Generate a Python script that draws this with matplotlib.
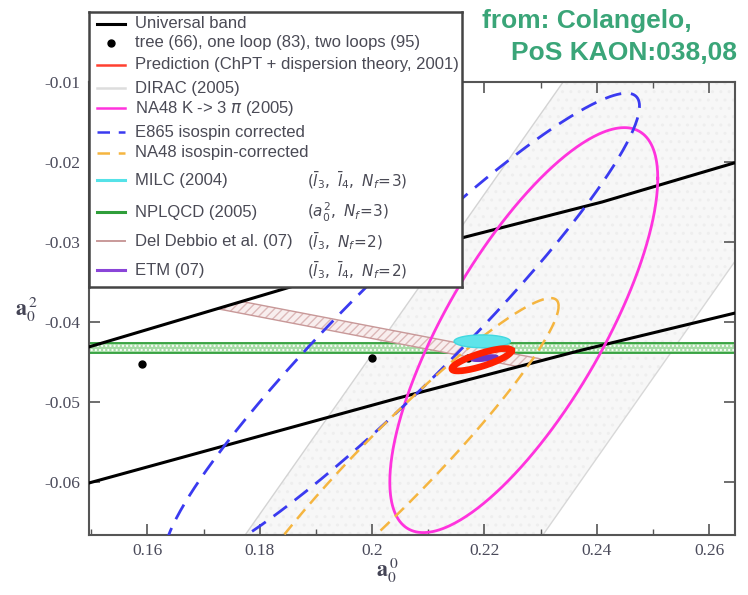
import numpy as np
import matplotlib
matplotlib.use("Agg")
import matplotlib.pyplot as plt
from matplotlib.patches import Polygon

plt.rcParams['axes.unicode_minus'] = False

# ---------------- data ----------------
# universal band boundaries (a0^0, a0^2)
upper_x = [0.1496, 0.1855, 0.2164, 0.2409, 0.2650]
upper_y = [-0.0431, -0.0356, -0.0294, -0.0250, -0.0200]
lower_x = [0.1496, 0.2046, 0.2373, 0.2650]
lower_y = [-0.0601, -0.0495, -0.0435, -0.0388]

# ChPT points: tree, one loop, two loops
pts_x = [0.159, 0.200, 0.217]
pts_y = [-0.0452, -0.0445, -0.0445]

# DIRAC band: a0^0 - a0^2 range
dirac_range = [0.244, 0.297]

# ellipses: (cx, cy, sx, sy, rho)
na48_cusp = (0.2270, -0.0410, 0.02385, 0.0253, 0.75)
e865 = (0.2053, -0.0410, 0.0423, 0.0296, 0.945)
na48_ke4 = (0.2039, -0.0580, 0.0293, 0.0210, 0.952)
prediction = (0.2195, -0.0447, 0.0053, 0.0014, 0.80)
milc = (0.2196, -0.0424, 0.0050, 0.0008, 0.0)
etm = (0.2200, -0.0445, 0.0024, 0.0004, 0.5)

# NPLQCD horizontal band
nplqcd_band = [-0.0439, -0.0426]

# Del Debbio strip (x ends, upper and lower edges)
dd_x = [0.170, 0.230]
dd_hi = [-0.0365, -0.0446]
dd_lo = [-0.0380, -0.0461]

xticks = [0.16, 0.18, 0.20, 0.22, 0.24, 0.26]
xtick_labels = ['0.16', '0.18', '0.2', '0.22', '0.24', '0.26']
yticks = [-0.06, -0.05, -0.04, -0.03, -0.02, -0.01]
ytick_labels = ['-0.06', '-0.05', '-0.04', '-0.03', '-0.02', '-0.01']

legend_labels = [
    "Universal band",
    "tree (66), one loop (83), two loops (95)",
    "Prediction (ChPT + dispersion theory, 2001)",
    "DIRAC (2005)",
    r"NA48 K -> 3 $\pi$ (2005)",
    "E865 isospin corrected",
    "NA48 isospin-corrected",
    "MILC (2004)",
    "NPLQCD (2005)",
    "Del Debbio et al. (07)",
    "ETM (07)",
]
legend_extra = ["", "", "", "", "", "", "",
                r"$(\bar{l}_3,\ \bar{l}_4,\ N_f\!=\!3)$",
                r"$(a_0^2,\ N_f\!=\!3)$",
                r"$(\bar{l}_3,\ N_f\!=\!2)$",
                r"$(\bar{l}_3,\ \bar{l}_4,\ N_f\!=\!2)$"]

# ---------------- figure ----------------
W, H = 748, 595
fig = plt.figure(figsize=(W / 100, H / 100), dpi=100)
ax = fig.add_axes([89 / W, 1 - 535 / H, (735 - 89) / W, (535 - 82) / H])
ax.set_xlim(0.1496, 0.2646)
ax.set_ylim(-0.0666, -0.0100)


def ellipse(p, n=400):
    cx, cy, sx, sy, rho = p
    t = np.linspace(0, 2 * np.pi, n)
    x = cx + sx * np.cos(t)
    y = cy + sy * (rho * np.cos(t) + np.sqrt(1 - rho ** 2) * np.sin(t))
    return x, y


# DIRAC band
xs = np.array(ax.get_xlim())
ax.fill_between(xs, xs - dirac_range[1], xs - dirac_range[0],
                facecolor='#f7f7f7', edgecolor='#eeeeee', hatch='..', lw=0, zorder=1)
ax.plot(xs, xs - dirac_range[0], color='#d4d4d4', lw=1.0, zorder=1.2)
ax.plot(xs, xs - dirac_range[1], color='#d8d8d8', lw=1.0, zorder=1.2)

# NPLQCD band
ax.fill_between(xs, nplqcd_band[0], nplqcd_band[1], facecolor='#a6dca6',
                edgecolor='white', hatch='....', lw=0, zorder=2)
ax.axhline(nplqcd_band[0], color='#2f9e3a', lw=1.3, zorder=2.1)
ax.axhline(nplqcd_band[1], color='#2f9e3a', lw=1.3, zorder=2.1)

# Del Debbio strip clipped to universal band
ub_poly = Polygon(np.column_stack([upper_x + lower_x[::-1], upper_y + lower_y[::-1]]),
                  closed=True, transform=ax.transData, facecolor='none', edgecolor='none')
ax.add_patch(ub_poly)
dd = ax.fill_between(dd_x, dd_lo, dd_hi, facecolor='#f8eeee', edgecolor='#dcb8b8',
                     hatch='////', lw=0, zorder=3)
dd.set_clip_path(ub_poly)
l1, = ax.plot(dd_x, dd_hi, color='#c89898', lw=1.0, zorder=3.1)
l2, = ax.plot(dd_x, dd_lo, color='#c89898', lw=1.0, zorder=3.1)
l1.set_clip_path(ub_poly)
l2.set_clip_path(ub_poly)

# universal band lines
ax.plot(upper_x, upper_y, color='black', lw=2.2, zorder=4)
ax.plot(lower_x, lower_y, color='black', lw=2.2, zorder=4)

# ellipses
x, y = ellipse(na48_cusp)
ax.plot(x, y, color='#ff33dd', lw=2.0, zorder=5)
x, y = ellipse(e865)
ax.plot(x, y, color='#3a3af0', lw=2.0, dashes=(6, 3.5), zorder=5)
x, y = ellipse(na48_ke4)
ax.plot(x, y, color='#f5b540', lw=1.8, dashes=(5, 3), zorder=5)
x, y = ellipse(milc)
ax.fill(x, y, facecolor='#5ee4ea', edgecolor='#40d8e0', lw=1.0, zorder=6)
x, y = ellipse(etm)
ax.fill(x, y, facecolor='#6a35c8', edgecolor='#6a35c8', lw=1.0, zorder=7)

# points
ax.plot(pts_x, pts_y, 'o', color='black', ms=5, zorder=6.5)

x, y = ellipse(prediction)
ax.plot(x, y, color='#ff2000', lw=4.8, zorder=8)

# axes styling
for s in ax.spines.values():
    s.set_color('#555555')
    s.set_linewidth(1.5)
ax.set_xticks(xticks)
ax.set_xticklabels(xtick_labels)
ax.set_xticks(np.arange(0.15, 0.2651, 0.01), minor=True)
ax.set_yticks(yticks)
ax.set_yticklabels(ytick_labels)
ax.tick_params(which='major', direction='in', length=8, width=1.2, color='#555555',
               top=True, right=True, labelsize=12.5, labelcolor='#4a4a5a', pad=6)
ax.tick_params(which='minor', direction='in', length=4, width=1.0, color='#555555',
               top=True, right=False, left=False)
for lab in ax.get_xticklabels() + ax.get_yticklabels():
    lab.set_fontfamily('Liberation Serif')

fig.text(26 / W, 1 - 310 / H, r'$\mathbf{a}^{\,2}_{0}$', fontsize=16, color='#444455',
         math_fontfamily='stix', ha='center', va='center')
fig.text(387 / W, 1 - 571 / H, r'$\mathbf{a}^{\,0}_{0}$', fontsize=16, color='#444455',
         math_fontfamily='stix', ha='center', va='center')

# ---------------- legend (drawn in its own box) ----------------
lx0, ly0, lx1, ly1 = 89, 12, 462, 287
lax = fig.add_axes([lx0 / W, 1 - ly1 / H, (lx1 - lx0) / W, (ly1 - ly0) / H])
lax.set_xlim(0, lx1 - lx0)
lax.set_ylim(ly1 - ly0, 0)
lax.set_xticks([])
lax.set_yticks([])
lax.set_facecolor('white')
for s in lax.spines.values():
    s.set_color('#444444')
    s.set_linewidth(1.8)

rows = [12, 31, 53, 76, 96, 120, 141, 168, 200, 229, 258]
handles = [
    dict(color='black', lw=2.2),
    None,
    dict(color='#ff4030', lw=1.8),
    dict(color='#dddddd', lw=1.8),
    dict(color='#ff33dd', lw=1.8),
    dict(color='#3a3af0', lw=1.8, dashes=(5, 3.5)),
    dict(color='#f5b540', lw=1.8, dashes=(5, 3.5)),
    dict(color='#55e2e8', lw=2.2),
    dict(color='#2f9e3a', lw=2.2),
    dict(color='#c99a9a', lw=1.4),
    dict(color='#8a45d8', lw=2.2),
]
for yv, h, lab, extra in zip(rows, handles, legend_labels, legend_extra):
    if h is None:
        lax.plot([22], [yv], 'o', color='black', ms=5)
    else:
        lax.plot([8, 36], [yv, yv], **h)
    lax.text(46, yv, lab, fontsize=12, color='#4a4a55', va='center', ha='left',
             family='Liberation Sans')
    if extra:
        lax.text(218, yv, extra, fontsize=11, color='#4a4a55', va='center', ha='left',
                 math_fontfamily='dejavusans')

# credit text
fig.text(482 / W, 1 - 21 / H, "from: Colangelo,", fontsize=19, fontweight='bold',
         color='#3aa578', family='Liberation Sans', ha='left', va='center')
fig.text(511 / W, 1 - 53 / H, "PoS KAON:038,08", fontsize=19, fontweight='bold',
         color='#3aa578', family='Liberation Sans', ha='left', va='center')

fig.savefig('out.png', dpi=100)
